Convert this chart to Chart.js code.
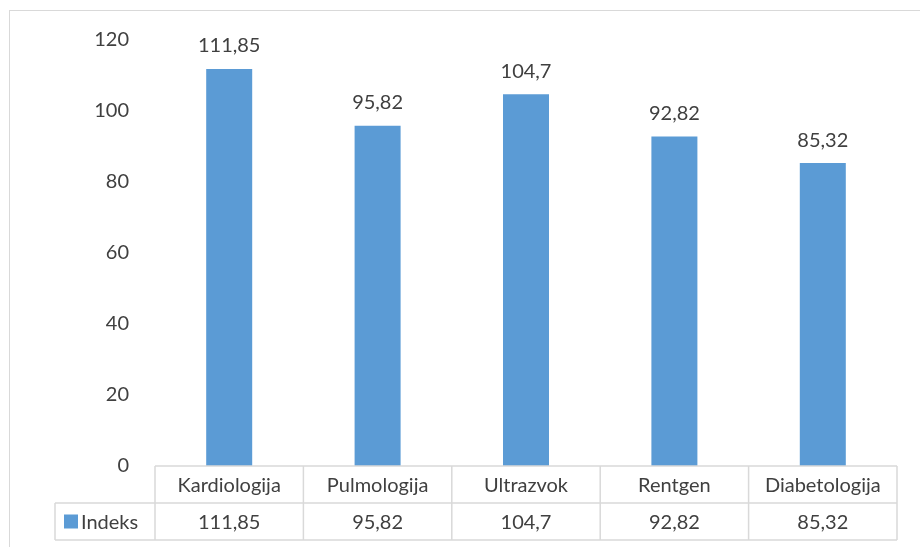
<!DOCTYPE html>
<html>
<head>
<meta charset="utf-8">
<script src="https://cdn.jsdelivr.net/npm/chart.js@4"></script>
<style>
  html, body { margin: 0; padding: 0; background: #fff; overflow: hidden; }
  #frame { position: absolute; left: 9px; top: 10px; width: 1000px; height: 1000px; border: 1px solid #d9d9d9; }
  #wrap { position: absolute; left: 0; top: 0; width: 920px; height: 547px; }
</style>
</head>
<body>
<div id="frame"></div>
<div id="wrap"><canvas id="myChart"></canvas></div>
<script>
const categories = ['Kardiologija', 'Pulmologija', 'Ultrazvok', 'Rentgen', 'Diabetologija'];
const indeks = [111.85, 95.82, 104.7, 92.82, 85.32];
const indeksLabels = ['111,85', '95,82', '104,7', '92,82', '85,32'];
const seriesName = 'Indeks';
const yTicks = [0, 20, 40, 60, 80, 100, 120];

const BAR_COLOR = '#5b9bd5';
const TEXT_COLOR = '#404040';
const LINE_COLOR = '#d9d9d9';
const FONT = 'Lato, "Open Sans", sans-serif';
const FONT_SIZE = 20;

// value labels above the bars
const valueLabels = {
  id: 'valueLabels',
  afterDatasetsDraw(chart) {
    const ctx = chart.ctx;
    const meta = chart.getDatasetMeta(0);
    ctx.save();
    ctx.font = FONT_SIZE + 'px ' + FONT;
    ctx.fillStyle = TEXT_COLOR;
    ctx.textAlign = 'center';
    ctx.textBaseline = 'middle';
    meta.data.forEach((bar, i) => {
      ctx.fillText(indeksLabels[i], bar.x, bar.y - 23);
    });
    ctx.restore();
  }
};

// data table under the plot
const dataTable = {
  id: 'dataTable',
  afterDraw(chart) {
    const ctx = chart.ctx;
    const x = chart.scales.x;
    const area = chart.chartArea;
    const top = area.bottom;
    const mid = top + 37;
    const bottom = mid + 37;
    const legendLeft = 55;
    const step = (area.right - area.left) / categories.length;

    ctx.save();
    ctx.strokeStyle = LINE_COLOR;
    ctx.lineWidth = 1.5;
    ctx.beginPath();
    ctx.moveTo(area.left, top); ctx.lineTo(area.right, top);
    ctx.moveTo(legendLeft, mid); ctx.lineTo(area.right, mid);
    ctx.moveTo(legendLeft, bottom); ctx.lineTo(area.right, bottom);
    ctx.moveTo(legendLeft, mid); ctx.lineTo(legendLeft, bottom);
    for (let i = 0; i <= categories.length; i++) {
      const lx = area.left + step * i;
      ctx.moveTo(lx, top); ctx.lineTo(lx, bottom);
    }
    ctx.stroke();

    ctx.font = FONT_SIZE + 'px ' + FONT;
    ctx.fillStyle = TEXT_COLOR;
    ctx.textAlign = 'center';
    ctx.textBaseline = 'middle';
    categories.forEach((c, i) => {
      const cx = x.getPixelForValue(i);
      ctx.fillText(c, cx, (top + mid) / 2 + 1);
      ctx.fillText(indeksLabels[i], cx, (mid + bottom) / 2 + 1);
    });

    ctx.fillStyle = BAR_COLOR;
    ctx.fillRect(legendLeft + 9, (mid + bottom) / 2 - 7, 14, 14);
    ctx.fillStyle = TEXT_COLOR;
    ctx.textAlign = 'left';
    ctx.fillText(seriesName, legendLeft + 26, (mid + bottom) / 2 + 1);
    ctx.restore();
  }
};

const ctx = document.getElementById('myChart').getContext('2d');

const config = {
  type: 'bar',
  data: {
    labels: categories,
    datasets: [{
      label: seriesName,
      data: indeks,
      backgroundColor: BAR_COLOR,
      categoryPercentage: 1,
      barPercentage: 0.31
    }]
  },
  options: {
    responsive: true,
    maintainAspectRatio: false,
    animation: false,
    layout: {
      padding: { left: 0, right: 23, top: 40, bottom: 81 }
    },
    plugins: {
      legend: { display: false },
      tooltip: { enabled: false }
    },
    scales: {
      x: {
        display: false
      },
      y: {
        min: 0,
        max: 120,
        afterBuildTicks(scale) {
          scale.ticks = yTicks.map(v => ({ value: v }));
        },
        afterFit(scale) {
          scale.width = 155;
        },
        grid: { display: false },
        border: { display: false },
        ticks: {
          padding: 18,
          color: TEXT_COLOR,
          font: { family: FONT, size: FONT_SIZE }
        }
      }
    }
  },
  plugins: [valueLabels, dataTable]
};

new Chart(ctx, config);
</script>
</body>
</html>
